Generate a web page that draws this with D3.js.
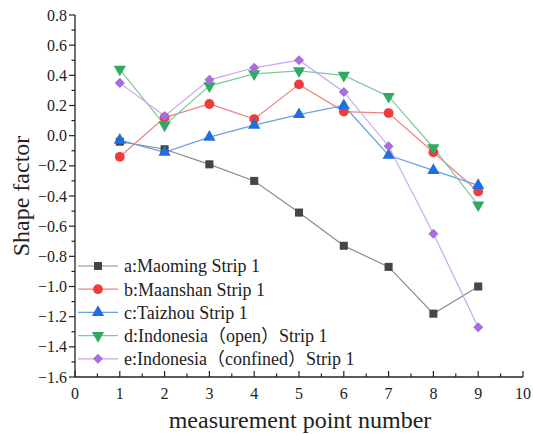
<!DOCTYPE html>
<html>
<head>
<meta charset="utf-8">
<script src="https://cdn.jsdelivr.net/npm/d3@7"></script>
<style>
  body { margin: 0; background: #fff; }
</style>
</head>
<body>
<script>
const width = 533;
const height = 435;

// chart values
const points = [1, 2, 3, 4, 5, 6, 7, 8, 9];
const maoming = [-0.04, -0.09, -0.19, -0.30, -0.51, -0.73, -0.87, -1.18, -1.00];
const maanshan = [-0.14, 0.12, 0.21, 0.11, 0.34, 0.16, 0.15, -0.11, -0.37];
const taizhou = [-0.03, -0.11, -0.01, 0.07, 0.14, 0.20, -0.13, -0.23, -0.33];
const indoOpen = [0.44, 0.07, 0.33, 0.41, 0.43, 0.40, 0.26, -0.08, -0.46];
const indoConfined = [0.35, 0.13, 0.37, 0.45, 0.50, 0.29, -0.07, -0.65, -1.27];
const seriesNames = ["a:Maoming Strip 1", "b:Maanshan Strip 1", "c:Taizhou Strip 1",
    "d:Indonesia（open）Strip 1", "e:Indonesia（confined）Strip 1"];
const xTicks = [0, 1, 2, 3, 4, 5, 6, 7, 8, 9, 10];
const yTicks = [-1.6, -1.4, -1.2, -1.0, -0.8, -0.6, -0.4, -0.2, 0.0, 0.2, 0.4, 0.6, 0.8];

const series = [
    { name: seriesNames[0], values: maoming, color: "#454545", line: "#8a8a8a", symbol: d3.symbolSquare, rot: 0 },
    { name: seriesNames[1], values: maanshan, color: "#ee3b3b", line: "#f08080", symbol: d3.symbolCircle, rot: 0 },
    { name: seriesNames[2], values: taizhou, color: "#1f6fe0", line: "#6a9fe0", symbol: d3.symbolTriangle, rot: 0 },
    { name: seriesNames[3], values: indoOpen, color: "#2faa60", line: "#7fc99a", symbol: d3.symbolTriangle, rot: 180 },
    { name: seriesNames[4], values: indoConfined, color: "#a66ee0", line: "#c9a6ee", symbol: d3.symbolDiamond2, rot: 0 }
];

const serif = "'Liberation Serif', 'Times New Roman', 'DejaVu Serif', 'Noto Sans CJK SC', serif";

const svg = d3.select("body")
    .append("svg")
    .attr("width", width)
    .attr("height", height)
    .style("font-family", serif);

const x = d3.scaleLinear().domain([0, 10]).range([75, 523]);
const y = d3.scaleLinear().domain([-1.6, 0.8]).range([377, 15]);

// x axis, ticks pointing inward
const xAxis = svg.append("g")
    .attr("transform", `translate(0,${y(-1.6)})`);
xAxis.append("line")
    .attr("x1", x(0)).attr("x2", x(10))
    .attr("stroke", "#222").attr("stroke-width", 1.3);
xAxis.selectAll(".major")
    .data(xTicks)
    .enter().append("line")
    .attr("x1", d => x(d)).attr("x2", d => x(d))
    .attr("y1", 0).attr("y2", -6)
    .attr("stroke", "#222").attr("stroke-width", 1.2);
xAxis.selectAll(".minor")
    .data(xTicks.slice(0, -1))
    .enter().append("line")
    .attr("x1", d => x(d + 0.5)).attr("x2", d => x(d + 0.5))
    .attr("y1", 0).attr("y2", -3.5)
    .attr("stroke", "#222").attr("stroke-width", 1.2);
xAxis.selectAll("text")
    .data(xTicks)
    .enter().append("text")
    .attr("x", d => x(d))
    .attr("y", 22)
    .attr("text-anchor", "middle")
    .attr("font-size", 16)
    .attr("font-family", serif)
    .attr("fill", "#222")
    .text(d => d);

// y axis, ticks pointing outward
const yAxis = svg.append("g")
    .attr("transform", `translate(${x(0)},0)`);
yAxis.append("line")
    .attr("y1", y(-1.6)).attr("y2", y(0.8))
    .attr("stroke", "#222").attr("stroke-width", 1.3);
yAxis.selectAll(".major")
    .data(yTicks)
    .enter().append("line")
    .attr("y1", d => y(d)).attr("y2", d => y(d))
    .attr("x1", 0).attr("x2", -6)
    .attr("stroke", "#222").attr("stroke-width", 1.2);
yAxis.selectAll(".minor")
    .data(yTicks.slice(0, -1))
    .enter().append("line")
    .attr("y1", d => y(d + 0.1)).attr("y2", d => y(d + 0.1))
    .attr("x1", 0).attr("x2", -3.5)
    .attr("stroke", "#222").attr("stroke-width", 1.2);
yAxis.selectAll("text")
    .data(yTicks)
    .enter().append("text")
    .attr("x", -8)
    .attr("y", d => y(d))
    .attr("dy", "0.35em")
    .attr("text-anchor", "end")
    .attr("font-size", 16)
    .attr("font-family", serif)
    .attr("fill", "#222")
    .text(d => d3.format(".1f")(d));

// axis titles
svg.append("text")
    .attr("x", 300)
    .attr("y", 428)
    .attr("text-anchor", "middle")
    .attr("font-size", 24)
    .attr("font-family", serif)
    .attr("fill", "#222")
    .text("measurement point number");

svg.append("text")
    .attr("transform", `translate(29,${y(-0.4)}) rotate(-90)`)
    .attr("text-anchor", "middle")
    .attr("font-size", 24)
    .attr("font-family", serif)
    .attr("fill", "#222")
    .text("Shape factor");

// lines and markers
const line = d3.line()
    .x((d, i) => x(points[i]))
    .y(d => y(d));

series.forEach(function (s) {
    svg.append("path")
        .datum(s.values)
        .attr("d", line)
        .attr("fill", "none")
        .attr("stroke", s.line)
        .attr("stroke-width", 1.2);
});

series.forEach(function (s) {
    svg.selectAll(null)
        .data(s.values)
        .enter()
        .append("path")
        .attr("d", d3.symbol().type(s.symbol).size(s.symbol === d3.symbolCircle ? 75 : 65))
        .attr("transform", (d, i) => `translate(${x(points[i])},${y(d)}) rotate(${s.rot})`)
        .attr("fill", s.color);
});

// legend
const legend = svg.append("g");
const rows = legend.selectAll("g")
    .data(series)
    .enter().append("g")
    .attr("transform", (d, i) => `translate(78,${266 + i * 23.2})`);
rows.append("line")
    .attr("x1", 0).attr("x2", 40)
    .attr("stroke", d => d.line)
    .attr("stroke-width", 1.2);
rows.append("path")
    .attr("d", d => d3.symbol().type(d.symbol).size(d.symbol === d3.symbolCircle ? 75 : 65)())
    .attr("transform", d => `translate(20,0) rotate(${d.rot})`)
    .attr("fill", d => d.color);
rows.append("text")
    .attr("x", 46)
    .attr("dy", "0.35em")
    .attr("font-size", 18)
    .attr("font-family", serif)
    .attr("fill", "#222")
    .text(d => d.name);
</script>
</body>
</html>
